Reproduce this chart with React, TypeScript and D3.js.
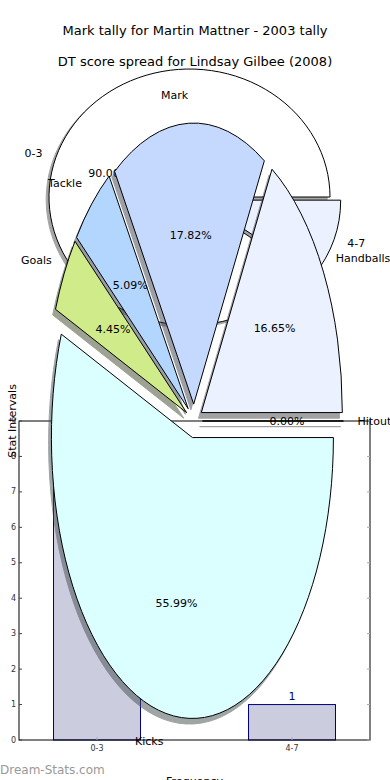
import React from 'react';
import * as d3 from 'd3';

const W = 390;
const H = 780;
const FONT = '"DejaVu Sans", sans-serif';

const titleLines = ['Mark tally for Martin Mattner - 2003 tally', 'DT score spread for Lindsay Gilbee (2008)'];

// Pie 1: Mark tally
const pie1Labels = ['0-3', '4-7'];
const pie1Values = [9, 1];
const pie1Colors = ['#ffffff', '#ebf1ff'];
const pie1Explode = [0, 0.08];

// Pie 2: DT score spread
const pie2Labels = ['Hitout', 'Handballs', 'Mark', 'Tackle', 'Goals', 'Kicks'];
const pie2Values = [0.0, 16.65, 17.82, 5.09, 4.45, 55.99];
const pie2Colors = ['#e0e0ff', '#ebf1ff', '#c5d9ff', '#b3d6ff', '#d0eb8a', '#dbffff'];
const pie2Explode = [0.06, 0.06, 0.06, 0.06, 0.06, 0.06];

// Histogram
const histCategories = ['0-3', '4-7'];
const histCounts = [9, 1];
const yTicks = [0, 1, 2, 3, 4, 5, 6, 7, 8, 9];
const xLabel = 'Frequency';
const yLabel = 'Stat Intervals';
const watermark = 'Dream-Stats.com';

function shadowColor(c: string) {
  const r = d3.rgb(c);
  return d3.rgb(r.r * 0.3, r.g * 0.3, r.b * 0.3).formatHex();
}

type PieProps = {
  cx: number; cy: number; rx: number; ry: number;
  labels: string[]; values: number[]; colors: string[]; explode: number[];
};

function EllipsePie({ cx, cy, rx, ry, labels, values, colors, explode }: PieProps) {
  const total = d3.sum(values);
  const arcs = d3.pie<number>().sort(null).value((d) => d)(values);
  const arcGen = d3.arc<any>().innerRadius(0).outerRadius(1);
  const items = arcs.map((a, i) => {
    const t0 = a.startAngle;
    const t1 = a.endAngle;
    const tm = (t0 + t1) / 2;
    const e = explode[i];
    const ox = cx + e * rx * Math.cos(tm);
    const oy = cy - e * ry * Math.sin(tm);
    const d = arcGen({ startAngle: Math.PI / 2 - t1, endAngle: Math.PI / 2 - t0 }) || '';
    const lx = ox + 1.1 * rx * Math.cos(tm);
    const ly = oy - 1.1 * ry * Math.sin(tm);
    const px = ox + 0.6 * rx * Math.cos(tm);
    const py = oy - 0.6 * ry * Math.sin(tm);
    return { d, ox, oy, lx, ly, px, py, anchor: lx > ox ? 'start' : 'end', pct: ((values[i] / total) * 100).toFixed(2) + '%', i };
  });
  return (
    <g>
      {items.map((it) => (
        <path key={'s' + it.i} d={it.d}
          transform={`translate(${it.ox - 0.02 * rx},${it.oy + 0.02 * ry}) scale(${rx},${ry})`}
          fill={shadowColor(colors[it.i])} stroke={shadowColor(colors[it.i])} strokeWidth={1}
          vectorEffect="non-scaling-stroke" opacity={0.5} />
      ))}
      {items.map((it) => (
        <path key={'w' + it.i} d={it.d}
          transform={`translate(${it.ox},${it.oy}) scale(${rx},${ry})`}
          fill={colors[it.i]} stroke="#000" strokeWidth={1} strokeLinejoin="round"
          vectorEffect="non-scaling-stroke" />
      ))}
      {items.map((it) => (
        <text key={'l' + it.i} x={it.lx} y={it.ly} textAnchor={it.anchor} dominantBaseline="central"
          fontSize={11} fontFamily={FONT} fill="#000">{labels[it.i]}</text>
      ))}
      {items.map((it) => (
        <text key={'p' + it.i} x={it.px} y={it.py} textAnchor="middle" dominantBaseline="central"
          fontSize={11} fontFamily={FONT} fill="#000">{it.pct}</text>
      ))}
    </g>
  );
}

function Histogram() {
  const left = 19, right = 370, top = 421, bottom = 740;
  const x = d3.scaleLinear().domain([-0.4, 1.4]).range([left, right]);
  const y = d3.scaleLinear().domain([0, 9]).range([bottom, top]);
  const bw = 0.446;
  return (
    <g>
      {histCounts.map((c, i) => (
        <g key={i}>
          <rect x={x(i - bw / 2)} y={y(c)} width={x(bw) - x(0)} height={y(0) - y(c)}
            fill="#ccccdf" stroke="#000080" strokeWidth={1} />
          <text x={x(i)} y={y(c) - 5} textAnchor="middle" fontSize={11} fontFamily={FONT} fill="#000080">{c}</text>
        </g>
      ))}
      <rect x={left} y={top} width={right - left} height={bottom - top} fill="none" stroke="#000" strokeWidth={1} />
      {yTicks.map((t) => (
        <g key={t}>
          <line x1={left} x2={left + 3} y1={y(t)} y2={y(t)} stroke="#444" />
          <line x1={right - 3} x2={right} y1={y(t)} y2={y(t)} stroke="#aaa" />
          <text x={left - 3} y={y(t)} textAnchor="end" dominantBaseline="central" fontSize={8} fontFamily={FONT} fill="#333">{t}</text>
        </g>
      ))}
      {histCategories.map((c, i) => (
        <g key={c}>
          <line x1={x(i)} x2={x(i)} y1={bottom} y2={bottom - 3} stroke="#aaa" />
          <text x={x(i)} y={bottom + 8} textAnchor="middle" dominantBaseline="central" fontSize={8} fontFamily={FONT} fill="#333">{c}</text>
        </g>
      ))}
      <text transform={`translate(12,${top}) rotate(-90)`} textAnchor="middle" dominantBaseline="central" fontSize={11} fontFamily={FONT} fill="#000">{yLabel}</text>
      <text x={(left + right) / 2} y={bottom + 41} textAnchor="middle" dominantBaseline="central" fontSize={11} fontFamily={FONT} fill="#000">{xLabel}</text>
      <text x={0} y={770} dominantBaseline="central" fontSize={12} fontFamily={FONT} fill="#999">{watermark}</text>
    </g>
  );
}

export default function App() {
  return (
    <svg width={W} height={H} viewBox={`0 0 ${W} ${H}`} style={{ position: 'absolute', left: 0, top: 0, background: '#fff' }}>
      <rect x={0} y={0} width={W} height={H} fill="#fff" />
      <text x={195} y={30} textAnchor="middle" dominantBaseline="central" fontSize={13} fontFamily={FONT}>{titleLines[0]}</text>
      <text x={195} y={61} textAnchor="middle" dominantBaseline="central" fontSize={13} fontFamily={FONT}>{titleLines[1]}</text>
      <EllipsePie cx={189.5} cy={197} rx={140.5} ry={128} labels={pie1Labels} values={pie1Values} colors={pie1Colors} explode={pie1Explode} />
      <Histogram />
      <EllipsePie cx={194} cy={421} rx={141} ry={281} labels={pie2Labels} values={pie2Values} colors={pie2Colors} explode={pie2Explode} />
    </svg>
  );
}
